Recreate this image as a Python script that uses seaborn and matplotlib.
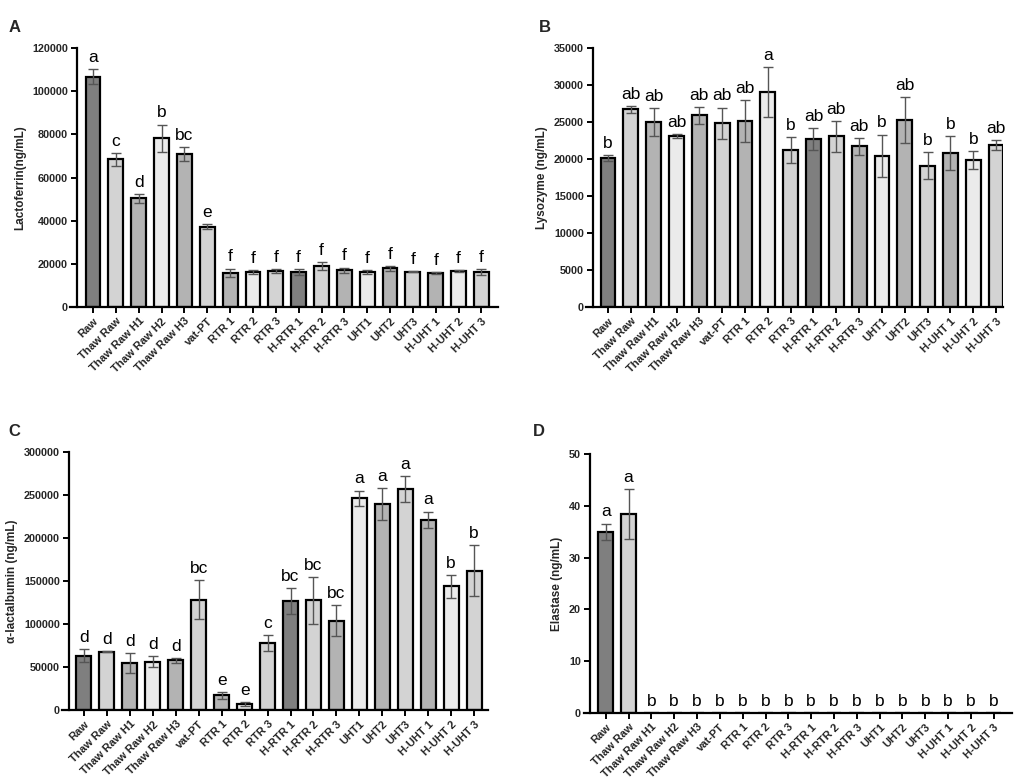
import numpy as np
import pandas as pd
import matplotlib
matplotlib.use("Agg")
import matplotlib.pyplot as plt
import seaborn as sns

sns.set_theme(style="ticks")
plt.rcParams['font.family'] = ['Liberation Sans', 'DejaVu Sans']

categories = ["Raw", "Thaw Raw", "Thaw Raw H1", "Thaw Raw H2", "Thaw Raw H3", "vat-PT",
              "RTR 1", "RTR 2", "RTR 3", "H-RTR 1", "H-RTR 2", "H-RTR 3",
              "UHT1", "UHT2", "UHT3", "H-UHT 1", "H-UHT 2", "H-UHT 3"]

lacto_mean = [106800, 68400, 50300, 78200, 70800, 37300, 15800, 16300, 16600, 16300, 19000, 17000,
              16100, 18000, 16400, 15800, 16700, 16300]
lacto_err = [3300, 3000, 2000, 6300, 3200, 1200, 2000, 800, 800, 1400, 1900, 1250,
             900, 1100, 300, 300, 300, 1400]
lacto_letters = ["a", "c", "d", "b", "bc", "e"] + ["f"] * 12

lyso_mean = [20150, 26700, 25000, 23100, 25900, 24850, 25150, 29050, 21200, 22700, 23050, 21700,
             20450, 25300, 19100, 20850, 19900, 21900]
lyso_err = [400, 500, 1850, 250, 1170, 2100, 2800, 3400, 1800, 1500, 2100, 1150,
            2850, 3100, 1800, 2300, 1200, 700]
lyso_letters = ["b", "ab", "ab", "ab", "ab", "ab", "ab", "a", "b", "ab", "ab", "ab",
                "b", "ab", "b", "b", "b", "ab"]

alac_mean = [63100, 67700, 54200, 56100, 57700, 128500, 17000, 6600, 77800, 127000, 127400, 103700,
             246200, 239600, 257000, 221400, 144000, 162200]
alac_err = [7700, 500, 11600, 6600, 3100, 22400, 4250, 2300, 8900, 15100, 27500, 18200,
            8900, 18200, 14700, 9300, 13200, 29800]
alac_letters = ["d", "d", "d", "d", "d", "bc", "e", "e", "c", "bc", "bc", "bc",
                "a", "a", "a", "a", "b", "b"]

elast_mean = [35.0, 38.4] + [0.0] * 16
elast_err = [1.55, 4.8] + [0.0] * 16
elast_letters = ["a", "a"] + ["b"] * 16

DARK, LIGHT, MED, VLIGHT = "#7f7f7f", "#d3d3d3", "#b3b3b3", "#ebebeb"
bar_colors = [DARK, LIGHT, MED, VLIGHT, MED, LIGHT, MED, VLIGHT, LIGHT,
              DARK, LIGHT, MED, VLIGHT, MED, LIGHT, MED, VLIGHT, LIGHT]

fig = plt.figure(figsize=(10.21, 7.81), dpi=100)

# (label, rect, mean, err, letters, ylabel, ylim, ystep, xlim, y-spine x position, label pos)
panels = [
    ("A", [0.0690, 0.6069, 0.4187, 0.3316], lacto_mean, lacto_err, lacto_letters,
     "Lactoferrin(ng/mL)", (0, 120000), 20000, (-0.985, 17.72), -0.7, (0.008, 0.965)),
    ("B", [0.5744, 0.6069, 0.4079, 0.3316], lyso_mean, lyso_err, lyso_letters,
     "Lysozyme (ng/mL)", (0, 35000), 5000, (-0.945, 17.3), -0.66, (0.528, 0.965)),
    ("C", [0.0612, 0.0909, 0.4167, 0.3303], alac_mean, alac_err, alac_letters,
     "α-lactalbumin (ng/mL)", (0, 300000), 50000, (-0.935, 17.6), -0.65, (0.008, 0.447)),
    ("D", [0.5715, 0.0871, 0.4197, 0.3316], elast_mean, elast_err, elast_letters,
     "Elastase (ng/mL)", (0, 50), 10, (-0.975, 17.8), -0.69, (0.522, 0.447)),
]

for label, rect, mean, err, letters, ylabel, ylim, ystep, xlim, spx, lpos in panels:
    ax = fig.add_axes(rect)
    df = pd.DataFrame({"cat": categories, "val": mean})
    sns.barplot(data=df, x="cat", y="val", hue="cat", palette=bar_colors, legend=False,
                errorbar=None, width=0.65, edgecolor="black", linewidth=1.6, ax=ax,
                order=categories, hue_order=categories)
    xs = np.arange(len(categories))
    m = np.array(mean, dtype=float)
    e = np.array(err, dtype=float)
    show = e > 0
    ax.errorbar(xs[show], m[show], yerr=e[show], fmt="none", ecolor="#555555",
                elinewidth=1.0, capsize=3.5, capthick=1.0, zorder=5)
    for xi, yi, ei, t in zip(xs, m, e, letters):
        ax.annotate(t, (xi, yi + ei), xytext=(0, 3), textcoords="offset points",
                    ha="center", va="bottom", fontsize=12.5, color="black")
    sns.despine(ax=ax)
    ax.spines["left"].set_position(("data", spx))
    for s in ("left", "bottom"):
        ax.spines[s].set_linewidth(1.6)
        ax.spines[s].set_color("black")
    ax.set_ylim(*ylim)
    ax.set_yticks(np.arange(ylim[0], ylim[1] + ystep / 2, ystep))
    ax.set_xlim(*xlim)
    ax.set_xticks(xs)
    ax.set_xticklabels(categories, rotation=45, ha="right", rotation_mode="anchor",
                       fontsize=8.0, fontweight="bold")
    ax.tick_params(axis="both", direction="out", length=4.5, width=1.4, color="black", pad=2)
    ax.tick_params(axis="y", labelsize=7.8)
    for tl in ax.get_yticklabels():
        tl.set_fontweight("bold")
    ax.set_xlabel("")
    ax.set_ylabel(ylabel, fontsize=8.5, fontweight="bold")
    ax.set_facecolor("white")
    fig.text(lpos[0], lpos[1], label, fontsize=12, fontweight="bold", ha="left", va="center")

fig.savefig("out.png", dpi=100, facecolor="white")
